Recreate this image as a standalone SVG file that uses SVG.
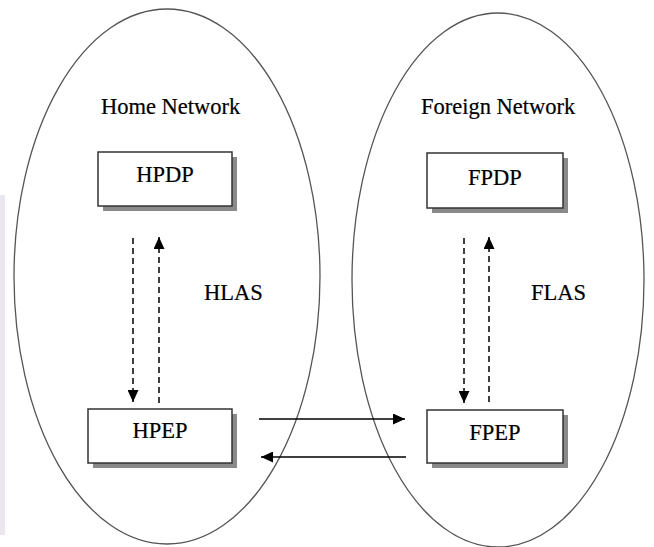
<svg xmlns="http://www.w3.org/2000/svg" width="654" height="547" viewBox="0 0 654 547">
  <defs>
    <marker id="head" markerUnits="userSpaceOnUse" markerWidth="12" markerHeight="11" refX="12" refY="5.5" orient="auto">
      <path d="M0,0 L12,5.5 L0,11 z" fill="#000"/>
    </marker>
  </defs>
  <style>
    .net { fill: none; stroke: #555; stroke-width: 1.3; }
    .shadow { fill: #8a8a8a; }
    .box { fill: #fff; stroke: #333; stroke-width: 1.5; }
    .lbl { font-size: 22.5px; fill: #000; stroke: #000; stroke-width: 0.2; }
    .mid { text-anchor: middle; }
    .dash { stroke: #000; stroke-width: 1.5; stroke-dasharray: 6 4; fill: none; marker-end: url(#head); }
    .solid { stroke: #000; stroke-width: 1.5; fill: none; marker-end: url(#head); }
  </style>
  <rect width="654" height="547" fill="#fff"/>
  <!-- faint edge shading -->
  <rect x="0" y="195" width="5" height="340" fill="#ebe7ef"/>

  <g font-family="'Liberation Serif', 'DejaVu Serif', serif">
  <!-- network regions -->
  <g id="home-network">
    <ellipse class="net" cx="167" cy="276.5" rx="153" ry="267.5"/>
    <text class="lbl" x="101" y="114">Home Network</text>
    <text class="lbl" x="204" y="300">HLAS</text>
  </g>
  <g id="foreign-network">
    <ellipse class="net" cx="498" cy="280" rx="146" ry="267"/>
    <text class="lbl" x="421" y="114">Foreign Network</text>
    <text class="lbl" x="531" y="300">FLAS</text>
  </g>

  <!-- nodes -->
  <g id="hpdp">
    <rect class="shadow" x="103" y="157" width="134" height="54"/>
    <rect class="box" x="98" y="152" width="134" height="54"/>
    <text class="lbl mid" x="165" y="182">HPDP</text>
  </g>
  <g id="hpep">
    <rect class="shadow" x="93" y="414" width="144" height="54"/>
    <rect class="box" x="88" y="409" width="144" height="54"/>
    <text class="lbl mid" x="160" y="438">HPEP</text>
  </g>
  <g id="fpdp">
    <rect class="shadow" x="432" y="158" width="136" height="55"/>
    <rect class="box" x="427" y="153" width="136" height="55"/>
    <text class="lbl mid" x="495" y="185">FPDP</text>
  </g>
  <g id="fpep">
    <rect class="shadow" x="432" y="415" width="136" height="53"/>
    <rect class="box" x="427" y="410" width="136" height="53"/>
    <text class="lbl mid" x="495" y="440">FPEP</text>
  </g>
  </g>

  <!-- connectors -->
  <g id="connectors">
    <line class="dash" x1="133" y1="238" x2="133" y2="402"/>
    <line class="dash" x1="159" y1="403" x2="159" y2="237"/>
    <line class="dash" x1="464" y1="238" x2="464" y2="403"/>
    <line class="dash" x1="489" y1="402" x2="489" y2="237"/>
    <line class="solid" x1="259" y1="419" x2="405" y2="419"/>
    <line class="solid" x1="406" y1="457" x2="261" y2="457"/>
  </g>
</svg>
